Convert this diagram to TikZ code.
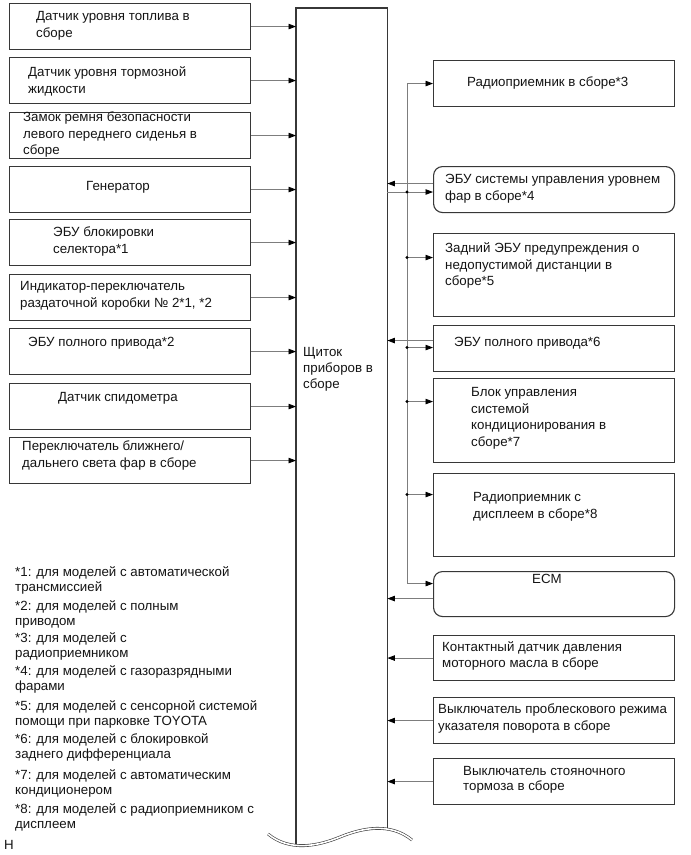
\documentclass[tikz,border=0pt]{standalone}
\usepackage{fontspec}
\setmainfont{Liberation Sans}
\usetikzlibrary{arrows.meta, calc, positioning}
\definecolor{frame1}{RGB}{55,55,55}
\definecolor{wire1}{RGB}{125,125,125}
\definecolor{ink1}{RGB}{20,20,20}

% text nodes sit on the baseline of their last line
\tikzset{
  box/.style={draw=frame1, line width=1.1pt, minimum width=241pt, anchor=north west, inner sep=0pt},
  roundbox/.style={box, rounded corners=9pt},
  txt/.style={font=\fontsize{13.3}{16.5}\selectfont, text=ink1, align=left, anchor=base west, inner sep=0pt},
  note/.style={txt, font=\fontsize{13.3}{15}\selectfont},
  wire/.style={draw=wire1, line width=0.8pt},
  arr/.style={wire, -{Triangle[length=7.5pt, width=5.5pt, color=black]}},
}

\begin{document}
\begin{tikzpicture}[x=1pt, y=-1pt]
  \useasboundingbox (0,0) rectangle (691,855);

  % instrument panel with break line
  \node[anchor=north west, minimum width=91pt, minimum height=828pt, inner sep=0pt] (panel) at (296,8) {};
  \draw[draw=frame1, line width=1.1pt] ([yshift=-9.4pt]panel.south west) -- (panel.north west)
    -- (panel.north east) -- ([yshift=7pt]panel.south east);
  \draw[frame1, line width=0.6pt, double, double distance=1.6pt] (268,834)
    .. controls (290,852) and (318,846) .. (340,837)
    .. controls (362,828) and (390,822) .. (412,840);
  \node[txt, font=\fontsize{13.3}{16}\selectfont] (panel-t) at (303,388.5) {Щиток\\приборов в\\сборе};

  % inputs on the left
  \node[box, minimum height=46pt] (fuel) at (9,3) {};
  \node[txt] (fuel-t) at (36,37) {Датчик уровня топлива в\\сборе};
  \node[box, minimum height=46pt] (brake) at (9,57) {};
  \node[txt] (brake-t) at (28,93) {Датчик уровня тормозной\\жидкости};
  \node[box, minimum height=46pt] (belt) at (9,112) {};
  \node[txt] (belt-t) at (23,154.5) {Замок ремня безопасности\\левого переднего сиденья в\\сборе};
  \node[box, minimum height=46pt] (alt) at (9,166) {};
  \node[txt] (alt-t) at (86,190.5) {Генератор};
  \node[box, minimum height=46pt] (shiftlock) at (9,219) {};
  \node[txt] (shiftlock-t) at (53,253) {ЭБУ блокировки\\селектора*1};
  \node[box, minimum height=46pt] (transfer) at (9,274) {};
  \node[txt] (transfer-t) at (20,307) {Индикатор-переключатель\\раздаточной коробки № 2*1, *2};
  \node[box, minimum height=46pt] (fourwd) at (9,328) {};
  \node[txt] (fourwd-t) at (28,346.5) {ЭБУ полного привода*2};
  \node[box, minimum height=46pt] (speed) at (9,383) {};
  \node[txt] (speed-t) at (58,401.5) {Датчик спидометра};
  \node[box, minimum height=46pt] (dimmer) at (9,437) {};
  \node[txt] (dimmer-t) at (22,467) {Переключатель ближнего/\\дальнего света фар в сборе};

  \foreach \n in {fuel, brake, belt, alt, shiftlock, transfer, fourwd, speed, dimmer}
    \draw[arr] (\n.east) -- (\n.east -| panel.west);

  % units on the right
  \node[box, minimum height=46pt] (radio) at (433,60) {};
  \node[txt] (radio-t) at (467,86.5) {Радиоприемник в сборе*3};
  \node[roundbox, minimum height=46pt] (level) at (433,166) {};
  \node[txt] (level-t) at (445,200) {ЭБУ системы управления уровнем\\фар в сборе*4};
  \node[box, minimum height=83pt] (clearance) at (433,233) {};
  \node[txt] (clearance-t) at (445,285.5) {Задний ЭБУ предупреждения о\\недопустимой дистанции в\\сборе*5};
  \node[box, minimum height=46pt] (diff) at (433,325) {};
  \node[txt] (diff-t) at (454,346.5) {ЭБУ полного привода*6};
  \node[box, minimum height=84pt] (aircon) at (433,378) {};
  \node[txt] (aircon-t) at (471,446) {Блок управления\\системой\\кондиционирования в\\сборе*7};
  \node[box, minimum height=83pt] (navi) at (433,473) {};
  \node[txt] (navi-t) at (473,518) {Радиоприемник с\\дисплеем в сборе*8};
  \node[roundbox, minimum height=45pt] (ecm) at (433,571) {};
  \node[txt] (ecm-t) at (532,583.5) {ECM};
  \node[box, minimum height=45pt] (oil) at (433,635) {};
  \node[txt, font=\fontsize{13.3}{15.5}\selectfont] (oil-t) at (442,667) {Контактный датчик давления\\моторного масла в сборе};
  \node[box, minimum height=46pt] (flasher) at (433,697) {};
  \node[txt] (flasher-t) at (438,730) {Выключатель проблескового режима\\указателя поворота в сборе};
  \node[box, minimum height=46pt] (parking) at (433,758) {};
  \node[txt, font=\fontsize{13.3}{15.5}\selectfont] (parking-t) at (463,790.5) {Выключатель стояночного\\тормоза в сборе};

  % output bus
  \coordinate (bus) at (407,192);
  \coordinate (ecm-in) at ([yshift=10.5pt]ecm.west);
  \draw[arr] (bus -| panel.east) -- (bus -| level.west);
  \draw[wire] (radio.west -| bus) -- (ecm-in -| bus);
  \draw[arr] (radio.west -| bus) -- (radio.west);
  \draw[arr] (ecm-in -| bus) -- (ecm-in);
  \fill (bus) circle (1.6pt);
  \foreach \n/\s in {clearance/17.5, diff/1, aircon/19, navi/20.5} {
    \coordinate (tap) at ([yshift=\s pt]\n.west);
    \draw[arr] (tap -| bus) -- (tap);
    \fill (tap -| bus) circle (1.6pt);
  }

  % signals into the panel
  \foreach \n/\s in {level/6, diff/8, ecm/-4.5, oil/0, flasher/0, parking/0} {
    \coordinate (src) at ([yshift=\s pt]\n.west);
    \draw[arr] (src) -- (src -| panel.east);
  }

  % notes
  \node[note] (note1) at (15,591.5) {*1: для моделей с автоматической\\трансмиссией};
  \node[note] (note2) at (15,625) {*2: для моделей с полным\\приводом};
  \node[note] (note3) at (15,657) {*3: для моделей с\\радиоприемником};
  \node[note] (note4) at (15,690) {*4: для моделей с газоразрядными\\фарами};
  \node[note] (note5) at (15,725) {*5: для моделей с сенсорной системой\\помощи при парковке TOYOTA};
  \node[note] (note6) at (15,758) {*6: для моделей с блокировкой\\заднего дифференциала};
  \node[note] (note7) at (15,794) {*7: для моделей с автоматическим\\кондиционером};
  \node[note] (note8) at (15,828) {*8: для моделей с радиоприемником с\\дисплеем};
  \node[note] (mark) at (4,849) {H};
\end{tikzpicture}
\end{document}
